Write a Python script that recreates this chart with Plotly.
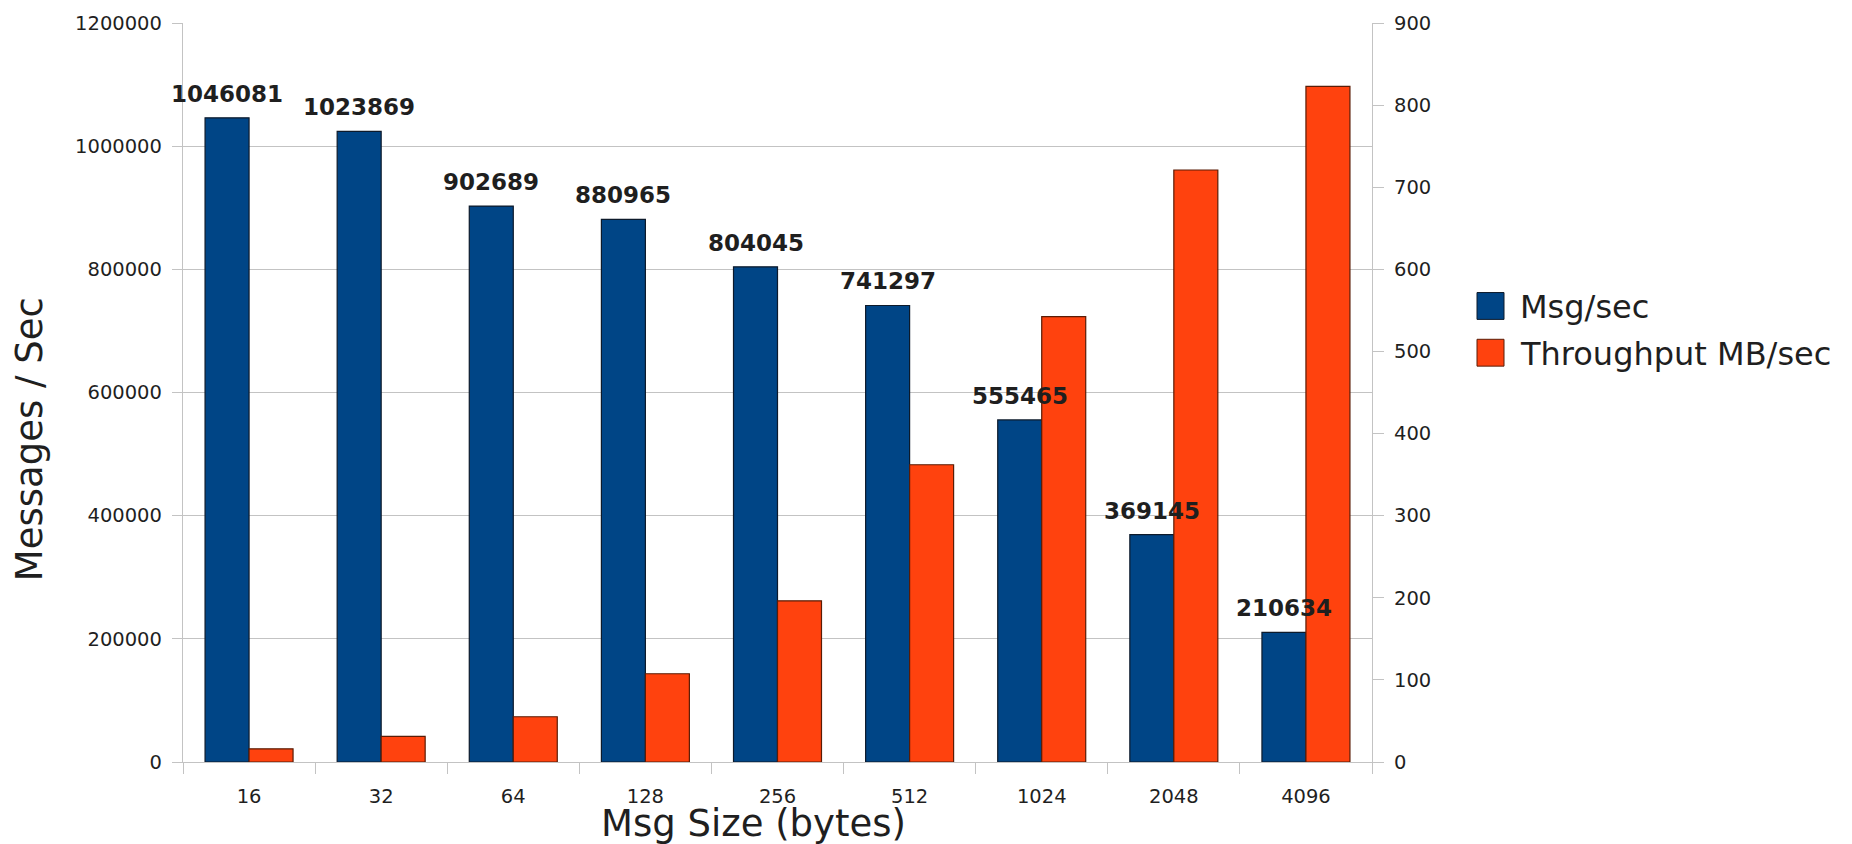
import plotly.graph_objects as go

# Benchmark results per message size
msg_sizes = ["16", "32", "64", "128", "256", "512", "1024", "2048", "4096"]
msg_per_sec = [1046081, 1023869, 902689, 880965, 804045, 741297, 555465, 369145, 210634]
throughput_mb = [16.0, 31.2, 55.1, 107.5, 196.3, 362.0, 542.4, 721.0, 822.8]

series_names = ["Msg/sec", "Throughput MB/sec"]
series_colors = ["#004586", "#ff420e"]
series_edges = ["#0d1a2b", "#5a1c06"]

FONT = "DejaVu Sans"
TEXT = "#1f1f1f"
GRID = "#c3c3c3"

W, H = 1852, 844
PLOT_L, PLOT_R, PLOT_T, PLOT_B = 183, 1372, 19, 762
BAR_W = 0.333


def px_x(px):
    return (px - PLOT_L) / (PLOT_R - PLOT_L)


def px_y(py):
    return (PLOT_B - py) / (PLOT_B - PLOT_T)


fig = go.Figure()
fig.add_trace(go.Bar(
    x=msg_sizes, y=msg_per_sec, name=series_names[0], yaxis="y",
    width=BAR_W, offset=-BAR_W,
    marker=dict(color=series_colors[0], line=dict(color=series_edges[0], width=1.2)),
    showlegend=False,
))
fig.add_trace(go.Bar(
    x=msg_sizes, y=throughput_mb, name=series_names[1], yaxis="y2",
    width=BAR_W, offset=0,
    marker=dict(color=series_colors[1], line=dict(color=series_edges[1], width=1.2)),
    showlegend=False,
))

annotations = []
# value labels above the Msg/sec bars (x given as category index)
for idx, val in enumerate(msg_per_sec):
    annotations.append(dict(
        x=idx, y=val, xref="x", yref="y", text=f"<b>{val}</b>",
        showarrow=False, xanchor="center", yanchor="bottom",
        xshift=-22, yshift=9,
        font=dict(family=FONT, size=23, color=TEXT),
    ))

# axis titles
annotations.append(dict(
    x=px_x(753), y=px_y(847), xref="paper", yref="paper",
    text="Msg Size (bytes)", showarrow=False, xanchor="center", yanchor="bottom",
    font=dict(family=FONT, size=37, color=TEXT),
))
annotations.append(dict(
    x=px_x(29.5), y=px_y(437), xref="paper", yref="paper",
    text="Messages / Sec", textangle=-90, showarrow=False,
    xanchor="center", yanchor="middle",
    font=dict(family=FONT, size=37, color=TEXT),
))

# legend
shapes = []
legend_rows = [303.5, 350.5]
for name, color, edge, cy in zip(series_names, series_colors, series_edges, legend_rows):
    shapes.append(dict(
        type="rect", xref="paper", yref="paper",
        x0=px_x(1477), x1=px_x(1504), y0=px_y(cy + 13.5), y1=px_y(cy - 13.5),
        fillcolor=color, line=dict(color=edge, width=1),
    ))
    annotations.append(dict(
        x=px_x(1518), y=px_y(cy + 1.5), xref="paper", yref="paper",
        text=name, showarrow=False, xanchor="left", yanchor="middle",
        font=dict(family=FONT, size=32, color=TEXT),
    ))

tick_font = dict(family=FONT, size=19.5, color=TEXT)

fig.update_layout(
    width=W, height=H,
    margin=dict(l=PLOT_L, r=W - PLOT_R, t=PLOT_T, b=H - PLOT_B, pad=0),
    paper_bgcolor="white", plot_bgcolor="white",
    barmode="overlay",
    showlegend=False,
    annotations=annotations,
    shapes=shapes,
    xaxis=dict(
        type="category", categoryorder="array", categoryarray=msg_sizes,
        range=[-0.5, len(msg_sizes) - 0.5], autorange=False,
        showgrid=False, zeroline=False,
        showline=True, linecolor=GRID, linewidth=1.3,
        ticks="outside", tickson="boundaries", ticklen=11, tickcolor=GRID, tickwidth=1.3,
        tickfont=tick_font, ticklabelstandoff=16, tickangle=0,
    ),
    yaxis=dict(
        range=[0, 1200000], autorange=False, dtick=200000, tickformat="d",
        showgrid=True, gridcolor=GRID, gridwidth=1.3,
        zeroline=False,
        showline=True, linecolor=GRID, linewidth=1.3,
        ticks="outside", ticklen=10, tickcolor=GRID, tickwidth=1.3,
        tickfont=tick_font, ticklabelstandoff=6,
    ),
    yaxis2=dict(
        range=[0, 900], autorange=False, dtick=100, overlaying="y", side="right",
        showgrid=False, zeroline=False,
        showline=True, linecolor=GRID, linewidth=1.3,
        ticks="outside", ticklen=11, tickcolor=GRID, tickwidth=1.3,
        tickfont=tick_font, ticklabelstandoff=6,
    ),
)

fig.write_html("out.html")
